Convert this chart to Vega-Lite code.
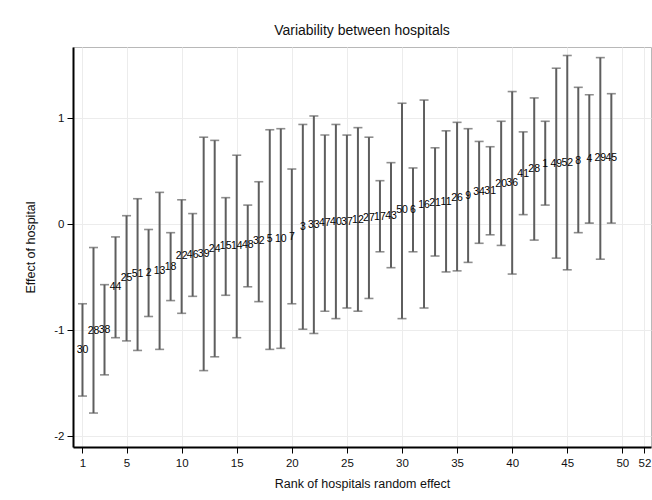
{
  "$schema": "https://vega.github.io/schema/vega-lite/v6.json",
  "autosize": {"type": "none"},
  "padding": {"left": 73, "top": 47, "right": 1, "bottom": 53},
  "width": 578,
  "height": 400,
  "background": "white",
  "title": {
    "text": "Variability between hospitals",
    "fontSize": 14,
    "fontWeight": "normal",
    "font": "Liberation Sans",
    "color": "#111",
    "anchor": "middle",
    "offset": 9
  },
  "data": {
    "values": [
      {"rank": 1, "id": "30", "est": -1.19, "lo": -1.62, "hi": -0.75},
      {"rank": 2, "id": "28", "est": -1.01, "lo": -1.78, "hi": -0.22},
      {"rank": 3, "id": "38", "est": -1.0, "lo": -1.42, "hi": -0.57},
      {"rank": 4, "id": "44", "est": -0.59, "lo": -1.07, "hi": -0.12},
      {"rank": 5, "id": "25", "est": -0.51, "lo": -1.1, "hi": 0.08},
      {"rank": 6, "id": "51", "est": -0.47, "lo": -1.19, "hi": 0.24},
      {"rank": 7, "id": "2", "est": -0.46, "lo": -0.87, "hi": -0.05},
      {"rank": 8, "id": "13", "est": -0.44, "lo": -1.18, "hi": 0.3},
      {"rank": 9, "id": "18", "est": -0.4, "lo": -0.72, "hi": -0.08},
      {"rank": 10, "id": "22", "est": -0.3, "lo": -0.84, "hi": 0.23},
      {"rank": 11, "id": "46", "est": -0.29, "lo": -0.68, "hi": 0.1},
      {"rank": 12, "id": "39", "est": -0.28, "lo": -1.38, "hi": 0.82},
      {"rank": 13, "id": "24", "est": -0.23, "lo": -1.25, "hi": 0.79},
      {"rank": 14, "id": "15", "est": -0.21, "lo": -0.67, "hi": 0.25},
      {"rank": 15, "id": "14", "est": -0.21, "lo": -1.07, "hi": 0.65},
      {"rank": 16, "id": "48", "est": -0.2, "lo": -0.59, "hi": 0.18},
      {"rank": 17, "id": "32", "est": -0.16, "lo": -0.73, "hi": 0.4},
      {"rank": 18, "id": "5", "est": -0.14, "lo": -1.18, "hi": 0.89},
      {"rank": 19, "id": "10", "est": -0.14, "lo": -1.17, "hi": 0.9},
      {"rank": 20, "id": "7", "est": -0.12, "lo": -0.75, "hi": 0.52},
      {"rank": 21, "id": "3", "est": -0.03, "lo": -0.99, "hi": 0.94},
      {"rank": 22, "id": "33", "est": -0.01, "lo": -1.03, "hi": 1.02},
      {"rank": 23, "id": "47", "est": 0.01, "lo": -0.82, "hi": 0.84},
      {"rank": 24, "id": "40", "est": 0.02, "lo": -0.89, "hi": 0.94},
      {"rank": 25, "id": "37", "est": 0.02, "lo": -0.79, "hi": 0.84},
      {"rank": 26, "id": "12", "est": 0.04, "lo": -0.82, "hi": 0.91},
      {"rank": 27, "id": "27", "est": 0.06, "lo": -0.7, "hi": 0.82},
      {"rank": 28, "id": "17", "est": 0.07, "lo": -0.26, "hi": 0.41},
      {"rank": 29, "id": "43", "est": 0.08, "lo": -0.41, "hi": 0.58},
      {"rank": 30, "id": "50", "est": 0.13, "lo": -0.89, "hi": 1.14},
      {"rank": 31, "id": "6", "est": 0.13, "lo": -0.26, "hi": 0.53},
      {"rank": 32, "id": "16", "est": 0.18, "lo": -0.79, "hi": 1.17},
      {"rank": 33, "id": "21", "est": 0.2, "lo": -0.3, "hi": 0.72},
      {"rank": 34, "id": "11", "est": 0.21, "lo": -0.45, "hi": 0.88},
      {"rank": 35, "id": "26", "est": 0.25, "lo": -0.44, "hi": 0.96},
      {"rank": 36, "id": "9", "est": 0.27, "lo": -0.36, "hi": 0.9},
      {"rank": 37, "id": "34", "est": 0.3, "lo": -0.18, "hi": 0.78},
      {"rank": 38, "id": "31", "est": 0.31, "lo": -0.1, "hi": 0.73},
      {"rank": 39, "id": "20", "est": 0.38, "lo": -0.2, "hi": 0.97},
      {"rank": 40, "id": "36", "est": 0.39, "lo": -0.47, "hi": 1.25},
      {"rank": 41, "id": "41", "est": 0.47, "lo": 0.09, "hi": 0.87},
      {"rank": 42, "id": "28", "est": 0.52, "lo": -0.15, "hi": 1.19},
      {"rank": 43, "id": "1", "est": 0.57, "lo": 0.18, "hi": 0.97},
      {"rank": 44, "id": "49", "est": 0.57, "lo": -0.32, "hi": 1.47},
      {"rank": 45, "id": "52", "est": 0.58, "lo": -0.43, "hi": 1.59},
      {"rank": 46, "id": "8", "est": 0.6, "lo": -0.08, "hi": 1.29},
      {"rank": 47, "id": "4", "est": 0.61, "lo": 0.01, "hi": 1.22},
      {"rank": 48, "id": "29", "est": 0.62, "lo": -0.33, "hi": 1.57},
      {"rank": 49, "id": "45", "est": 0.62, "lo": 0.01, "hi": 1.23}
    ]
  },
  "encoding": {
    "x": {
      "field": "rank",
      "type": "quantitative",
      "scale": {"domain": [0.14, 52.6], "nice": false, "zero": false},
      "axis": {
        "title": "Rank of hospitals random effect",
        "values": [1, 5, 10, 15, 20, 25, 30, 35, 40, 45, 50, 52],
        "format": "d",
        "grid": true,
        "gridColor": "#ececec",
        "gridWidth": 1,
        "domainColor": "#000",
        "domainWidth": 2,
        "tickColor": "#000",
        "tickSize": 6,
        "labelPadding": 4,
        "labelFontSize": 11.5,
        "titleFontSize": 12.5,
        "titlePadding": 9,
        "labelFlush": false
      }
    }
  },
  "layer": [
    {
      "mark": {"type": "rule", "color": "#5e5e5e", "strokeWidth": 2},
      "encoding": {
        "y": {
          "field": "lo",
          "type": "quantitative",
          "scale": {"domain": [-2.1, 1.67], "nice": false, "zero": false},
          "axis": {
            "title": "Effect of hospital",
            "values": [-2, -1, 0, 1],
            "format": "d",
            "labelExpr": "replace(datum.label, '\u2212', '-')",
            "grid": true,
            "gridColor": "#ececec",
            "gridWidth": 1,
            "domainColor": "#000",
            "domainWidth": 2,
            "tickColor": "#000",
            "tickSize": 6,
            "labelPadding": 3,
            "labelFontSize": 11.5,
            "titleFontSize": 12.5,
            "titlePadding": 16,
            "labelFlush": false
          }
        },
        "y2": {"field": "hi"}
      }
    },
    {
      "mark": {"type": "tick", "orient": "horizontal", "size": 9, "thickness": 1.6, "color": "#5e5e5e"},
      "encoding": {"y": {"field": "lo", "type": "quantitative"}}
    },
    {
      "mark": {"type": "tick", "orient": "horizontal", "size": 9, "thickness": 1.6, "color": "#5e5e5e"},
      "encoding": {"y": {"field": "hi", "type": "quantitative"}}
    },
    {
      "mark": {"type": "text", "fontSize": 10.5, "font": "Liberation Sans", "fill": "#000", "color": "#000", "align": "center", "baseline": "middle"},
      "encoding": {
        "y": {"field": "est", "type": "quantitative"},
        "text": {"field": "id"}
      }
    }
  ],
  "config": {
    "view": {"stroke": "#b8b8b8", "strokeWidth": 1},
    "axis": {
      "labelFont": "Liberation Sans",
      "titleFont": "Liberation Sans",
      "labelColor": "#111",
      "titleColor": "#111",
      "titleFontWeight": "normal"
    }
  }
}
